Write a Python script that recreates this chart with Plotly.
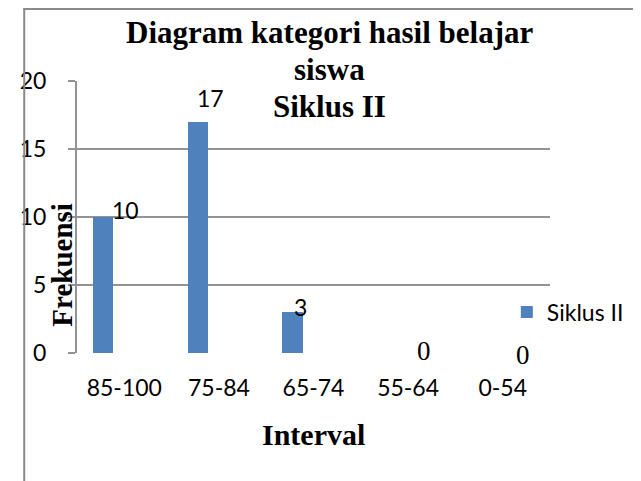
import plotly.graph_objects as go

categories = ["85-100", "75-84", "65-74", "55-64", "0-54"]
frekuensi = [10, 17, 3, 0, 0]
series_name = "Siklus II"
y_ticks = [0, 5, 10, 15, 20]
title_lines = ["Diagram kategori hasil belajar", "siswa", "Siklus II"]

# label styling (pixel nudges of the hand-placed value labels)
label_fonts = ["Lato", "Lato", "Lato", "Liberation Serif", "Liberation Serif"]
label_sizes = [23, 23, 23, 27, 27]
label_xshift = [1, -8, -13, 16, 20]
label_yshift = [7, 24, 5, 2, -2]

OFF = 8  # page body margin
W, H = 641 - OFF, 481 - OFF
PX0, PX1, PY0, PY1 = 64, 557, 81, 353  # plot area in page pixels
L, R, T, B = PX0 - OFF, W - (PX1 - OFF), PY0 - OFF, H - (PY1 - OFF)
pw = W - L - R
ph = H - T - B


def px(xp):
    return (xp - PX0) / pw


def py(yp):
    return (PY1 - yp) / ph


grid_col = "#939393"
sans = "Lato"
serif = "Liberation Serif"

fig = go.Figure()
fig.add_trace(go.Bar(
    x=categories, y=frekuensi, name=series_name,
    marker=dict(color="#4F81BD", line=dict(width=0)),
    width=0.215, offset=-0.33, showlegend=True,
))

annotations = []
for c, v, f, s, dx, dy in zip(categories, frekuensi, label_fonts, label_sizes, label_xshift, label_yshift):
    annotations.append(dict(
        x=c, y=v, xref="x", yref="y", text=str(v), showarrow=False,
        xanchor="center", yanchor="middle", xshift=dx, yshift=dy,
        font=dict(family=f, size=s, color="#000000"),
    ))

title_centers_y = [33, 70, 106]
for line, yc in zip(title_lines, title_centers_y):
    annotations.append(dict(
        text="<b>" + line + "</b>",
        xref="paper", yref="paper", x=px(327), y=py(yc),
        xanchor="center", yanchor="middle", showarrow=False,
        font=dict(family=serif, size=31, color="#000000"),
    ))
annotations.append(dict(
    text="<b>Frekuensi</b>", textangle=-90,
    xref="paper", yref="paper", x=px(48), y=py(265),
    xanchor="center", yanchor="middle", showarrow=False,
    font=dict(family=serif, size=29, color="#000000"),
))
annotations.append(dict(
    text="<b>Interval</b>",
    xref="paper", yref="paper", x=px(310), y=py(434),
    xanchor="center", yanchor="middle", showarrow=False,
    font=dict(family=serif, size=30, color="#000000"),
))

shapes = [
    dict(type="line", xref="paper", yref="paper",
         x0=px(9), x1=px(9), y0=py(8), y1=py(500),
         line=dict(color="#8a8a8a", width=2)),
    dict(type="line", xref="paper", yref="paper",
         x0=px(8), x1=px(660), y0=py(9), y1=py(9),
         line=dict(color="#8a8a8a", width=2)),
]

fig.update_layout(
    width=W, height=H,
    margin=dict(l=L, r=R, t=T, b=B),
    paper_bgcolor="white", plot_bgcolor="white",
    showlegend=True,
    legend=dict(x=px(512), y=py(312), xanchor="left", yanchor="middle",
                font=dict(family=sans, size=23, color="#000000"),
                bgcolor="rgba(0,0,0,0)", itemwidth=30),
    annotations=annotations,
    shapes=shapes,
    bargap=0,
)
fig.update_xaxes(
    type="category", categoryorder="array", categoryarray=categories,
    showgrid=False, showline=False, ticks="", zeroline=False,
    tickfont=dict(family=sans, size=23, color="#000000"),
    ticklabelstandoff=19,
)
fig.update_yaxes(
    range=[0, 20], tickvals=y_ticks, showgrid=True, gridcolor=grid_col, gridwidth=2,
    showline=True, linecolor=grid_col, linewidth=2,
    ticks="outside", ticklen=7, tickcolor=grid_col, tickwidth=2,
    zeroline=False,
    tickfont=dict(family=sans, size=23, color="#000000"),
    ticklabelstandoff=17,
)

fig.write_html("out.html")
